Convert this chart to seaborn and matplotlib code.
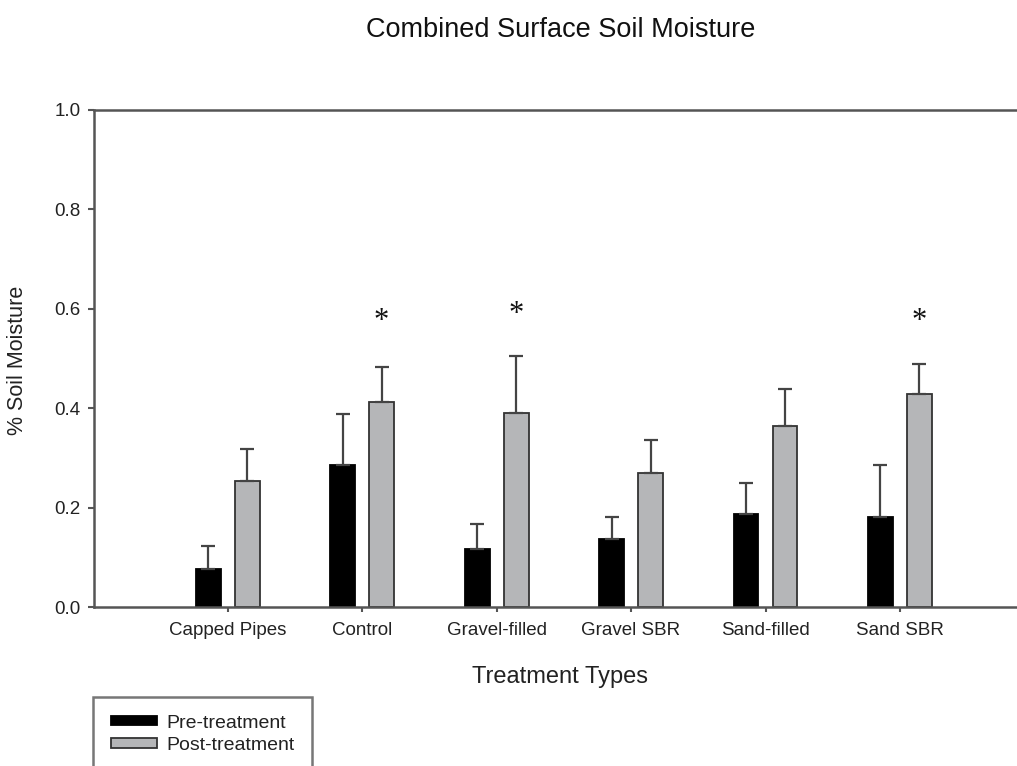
import numpy as np
import pandas as pd
import matplotlib
matplotlib.use("Agg")
import matplotlib.pyplot as plt
import seaborn as sns
from matplotlib.patches import Patch

categories = ["Capped Pipes", "Control", "Gravel-filled", "Gravel SBR", "Sand-filled", "Sand SBR"]
series_names = ["Pre-treatment", "Post-treatment"]
pre_mean = [0.076, 0.286, 0.116, 0.137, 0.188, 0.182]
pre_err = [0.047, 0.102, 0.052, 0.045, 0.061, 0.104]
post_mean = [0.254, 0.412, 0.391, 0.269, 0.364, 0.428]
post_err = [0.063, 0.070, 0.115, 0.068, 0.074, 0.061]
significant = ["Control", "Gravel-filled", "Sand SBR"]
star_y = [0.575, 0.588, 0.575]
y_ticks = [0.0, 0.2, 0.4, 0.6, 0.8, 1.0]

sns.set_style("white")
plt.rcParams["font.family"] = ["Liberation Sans", "DejaVu Sans"]

df = pd.DataFrame({
    "Treatment": categories * 2,
    "Moisture": pre_mean + post_mean,
    "Period": [series_names[0]] * len(categories) + [series_names[1]] * len(categories),
})

fig = plt.figure(figsize=(10.17, 7.66), dpi=100)
ax = fig.add_axes([94 / 1017, 1 - 607 / 766, 1 - 94 / 1017, (607 - 110) / 766])

colors = {series_names[0]: "#000000", series_names[1]: "#b5b6b8"}
sns.barplot(data=df, x="Treatment", y="Moisture", hue="Period", order=categories,
            hue_order=series_names, palette=colors, width=0.58, gap=0.36,
            errorbar=None, legend=False, ax=ax, edgecolor="#333333", linewidth=1.3,
            saturation=1)

bar_conts = list(ax.containers)
errs = [pre_err, post_err]
means = [pre_mean, post_mean]
for i, cont in enumerate(bar_conts):
    xs = [p.get_x() + p.get_width() / 2 for p in cont.patches]
    e = np.array(errs[i])
    ax.errorbar(xs, means[i], yerr=[np.zeros_like(e), e], fmt="none",
                ecolor="#444444", elinewidth=1.6, capsize=5.2, capthick=1.6, zorder=1)
    if i == 0:
        for p in cont.patches:
            p.set_edgecolor("#000000")

post_xs = {c: p.get_x() + p.get_width() / 2 for c, p in zip(categories, bar_conts[1].patches)}
for c, y in zip(significant, star_y):
    ax.text(post_xs[c], y, "*", ha="center", va="center", fontsize=22,
            family="Liberation Serif", color="#111111")

ax.set_xlim(-0.993, 5.87)
ax.set_ylim(0, 1.0)
ax.set_yticks(y_ticks)
ax.set_yticklabels([f"{t:.1f}" for t in y_ticks])
ax.set_xlabel("")
ax.set_ylabel("")
for s in ["left", "top", "bottom"]:
    ax.spines[s].set_color("#555555")
    ax.spines[s].set_linewidth(1.8)
ax.spines["right"].set_visible(False)
ax.tick_params(axis="y", direction="out", length=4.5, width=1.5, color="#555555",
               labelsize=13.5, labelcolor="#222222", pad=5, left=True)
ax.tick_params(axis="x", direction="out", length=3.5, width=1.5, color="#555555",
               labelsize=13.5, labelcolor="#222222", pad=7, bottom=True)

fig.text(561 / 1017, 1 - 30 / 766, "Combined Surface Soil Moisture", ha="center", va="center",
         fontsize=19.5, color="#111111")
fig.text(560 / 1017, 1 - 677 / 766, "Treatment Types", ha="center", va="center",
         fontsize=17, color="#222222")
fig.text(18 / 1017, 1 - 360 / 766, "% Soil Moisture", ha="center", va="center",
         rotation=90, fontsize=15.5, color="#222222")

handles = [Patch(facecolor=colors[series_names[0]], edgecolor="#000000", linewidth=1.3),
           Patch(facecolor=colors[series_names[1]], edgecolor="#333333", linewidth=1.3)]
leg = ax.legend(handles, series_names, loc="upper left",
                bbox_to_anchor=(93 / 1017, 1 - 697 / 766), bbox_transform=fig.transFigure,
                borderaxespad=0, fontsize=14, fancybox=False, frameon=True,
                borderpad=0.9, handlelength=2.4, handleheight=0.4, handletextpad=0.45,
                labelspacing=0.3)
leg.get_frame().set_edgecolor("#555555")
leg.get_frame().set_linewidth(1.8)
for t in leg.get_texts():
    t.set_color("#222222")

fig.savefig("out.png", dpi=100)
